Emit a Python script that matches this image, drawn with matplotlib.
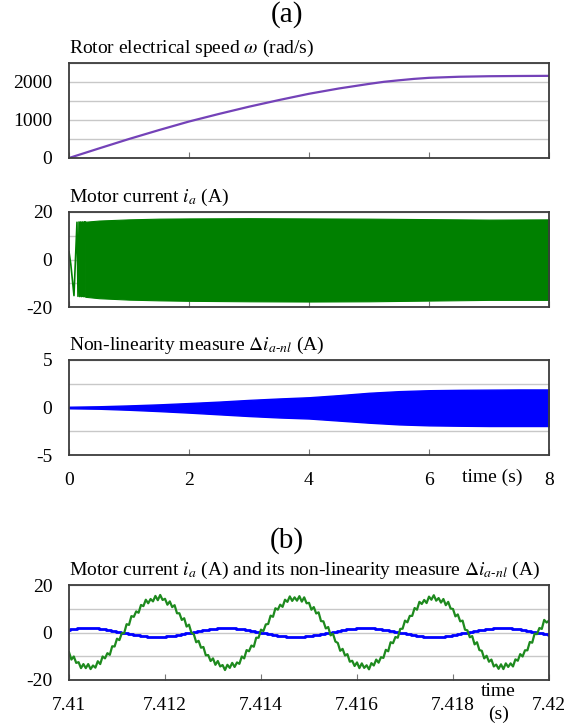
import numpy as np
import matplotlib
matplotlib.use("Agg")
import matplotlib.pyplot as plt

plt.rcParams['font.family'] = ['Liberation Serif', 'DejaVu Serif']
plt.rcParams['mathtext.fontset'] = 'stix'
plt.rcParams['axes.unicode_minus'] = False

# (a) rotor speed
t_speed = [0, 0.5, 1, 1.5, 2, 2.5, 3, 3.5, 4, 4.5, 5, 5.25, 5.5, 5.75, 6, 6.5, 7, 7.5, 8]
speed = [0, 252, 500, 735, 960, 1160, 1350, 1525, 1690, 1830, 1950, 2005, 2045, 2082, 2110, 2138, 2152, 2158, 2162]

# (a) motor current: first visible swings, then envelope of the dense band
t_start = [0, 0.03, 0.083, 0.133, 0.15, 0.167, 0.18, 0.195, 0.21, 0.222, 0.24, 0.25, 0.26, 0.272]
ia_start = [3.3, -2.0, -15.2, 15.7, -15.5, 15.8, -15.6, 15.8, -15.6, 15.8, -15.6, 15.8, -15.6, 15.8]
t_env = [0.27, 0.5, 1, 1.5, 2, 3, 4, 5, 6, 7, 8]
ia_up = [15.9, 16.4, 16.9, 17.2, 17.3, 17.4, 17.3, 17.2, 17.0, 16.8, 16.9]
ia_lo = [-15.7, -16.3, -16.9, -17.2, -17.4, -17.6, -17.7, -17.6, -17.3, -17.0, -17.0]

# (a) non-linearity measure envelope
t_nl = [0, 0.5, 1, 1.5, 2, 2.5, 3, 3.5, 4, 4.5, 5, 5.5, 6, 6.5, 7, 7.5, 8]
nl_up = [0.08, 0.13, 0.22, 0.33, 0.47, 0.62, 0.8, 0.95, 1.08, 1.3, 1.55, 1.72, 1.82, 1.86, 1.88, 1.9, 1.9]
nl_lo = [-0.08, -0.13, -0.24, -0.38, -0.54, -0.72, -0.9, -1.05, -1.16, -1.38, -1.6, -1.78, -1.88, -1.92, -1.95, -1.95, -1.95]

# (b) zoomed window, samples every 0.05 ms
time_b = np.linspace(7.41, 7.42, 201)
ia_b = [-8.3, -11.4, -10.1, -12.8, -12.5, -15.0, -13.3, -15.0, -13.3, -15.4,
        -13.9, -14.8, -12.1, -13.3, -10.1, -10.9, -8.7, -9.4, -5.8, -5.9,
        -2.6, -3.2, -0.3, -0.2, 3.5, 3.2, 6.9, 6.6, 8.9, 8.3,
        11.6, 11.1, 13.8, 12.3, 14.1, 13.1, 15.4, 13.6, 15.8, 13.7,
        14.2, 11.7, 13.1, 10.7, 11.5, 8.1, 8.1, 5.3, 6.0, 2.5,
        3.3, -0.1, -0.7, -4.1, -3.5, -6.4, -6.1, -9.6, -9.5, -12.0,
        -10.9, -13.6, -12.0, -14.3, -13.7, -15.8, -13.6, -14.9, -12.8, -14.5,
        -12.6, -13.2, -10.1, -10.9, -7.4, -7.9, -5.5, -6.0, -2.2, -2.2,
        1.2, 0.6, 3.4, 3.6, 7.1, 6.6, 10.2, 9.6, 11.7, 10.8,
        13.8, 12.9, 15.2, 13.3, 14.8, 13.4, 15.3, 13.0, 14.8, 12.3,
        12.5, 9.6, 10.7, 8.0, 8.5, 4.8, 4.7, 1.7, 2.3, -1.2,
        -0.5, -3.8, -4.4, -7.7, -6.9, -9.7, -9.1, -12.3, -11.9, -14.1,
        -12.6, -15.0, -13.0, -14.9, -13.8, -15.5, -12.9, -13.9, -11.4, -12.7,
        -10.4, -10.7, -7.3, -7.9, -4.1, -4.5, -1.9, -2.2, 1.5, 1.6,
        5.0, 4.3, 7.0, 7.0, 10.3, 9.6, 12.9, 12.0, 13.7, 12.4,
        15.1, 13.8, 15.7, 13.4, 14.5, 12.6, 14.1, 11.5, 12.9, 10.1,
        9.9, 6.8, 7.6, 4.7, 5.0, 1.2, 0.9, -2.0, -1.5, -5.0,
        -4.1, -7.4, -7.7, -10.9, -9.8, -12.3, -11.4, -14.3, -13.5, -15.3,
        -13.4, -15.4, -13.0, -14.5, -13.0, -14.3, -11.3, -11.9, -9.1, -10.1,
        -7.5, -7.5, -4.0, -4.3, -0.5, -0.7, 1.9, 1.5, 5.3, 4.2,
        5.0]
nl_b = [1.2, 1.4, 1.6, 1.6, 1.8, 1.8, 1.8, 1.8, 1.8, 1.8,
        1.8, 1.8, 1.8, 1.6, 1.6, 1.4, 1.2, 1.0, 0.8, 0.6,
        0.4, 0.2, 0.0, -0.2, -0.4, -0.6, -0.8, -1.0, -1.0, -1.2,
        -1.4, -1.6, -1.6, -1.8, -1.8, -1.8, -1.8, -1.8, -1.8, -1.8,
        -1.8, -1.6, -1.6, -1.4, -1.4, -1.2, -1.0, -0.8, -0.6, -0.4,
        -0.2, 0.0, 0.2, 0.4, 0.6, 0.8, 1.0, 1.2, 1.2, 1.4,
        1.6, 1.6, 1.8, 1.8, 1.8, 1.8, 1.8, 1.8, 1.8, 1.8,
        1.6, 1.6, 1.4, 1.4, 1.2, 1.0, 0.8, 0.6, 0.4, 0.2,
        0.0, -0.2, -0.4, -0.6, -0.8, -1.0, -1.2, -1.4, -1.4, -1.6,
        -1.6, -1.8, -1.8, -1.8, -1.8, -1.8, -1.8, -1.8, -1.8, -1.6,
        -1.6, -1.4, -1.2, -1.2, -1.0, -0.8, -0.6, -0.4, -0.2, 0.0,
        0.2, 0.4, 0.6, 0.8, 1.0, 1.2, 1.4, 1.4, 1.6, 1.6,
        1.8, 1.8, 1.8, 1.8, 1.8, 1.8, 1.8, 1.8, 1.6, 1.6,
        1.4, 1.2, 1.0, 1.0, 0.8, 0.6, 0.4, 0.2, 0.0, -0.2,
        -0.4, -0.6, -0.8, -1.0, -1.2, -1.4, -1.6, -1.6, -1.8, -1.8,
        -1.8, -1.8, -1.8, -1.8, -1.8, -1.8, -1.8, -1.6, -1.6, -1.4,
        -1.2, -1.0, -0.8, -0.6, -0.4, -0.2, 0.0, 0.2, 0.4, 0.6,
        0.8, 1.0, 1.0, 1.2, 1.4, 1.6, 1.6, 1.8, 1.8, 1.8,
        1.8, 1.8, 1.8, 1.8, 1.8, 1.6, 1.6, 1.4, 1.4, 1.2,
        1.0, 0.8, 0.6, 0.4, 0.2, 0.0, -0.2, -0.4, -0.6, -0.8,
        -1.0]

W, H = 575, 726
fig = plt.figure(figsize=(W / 100, H / 100), dpi=100)

FS = 14
GRID = '#c8c8c8'
FRAME = '#3c3c3c'


def box(top_px, bottom_px):
    return [69 / W, (H - bottom_px) / H, 480 / W, (bottom_px - top_px) / H]


def style(ax, major, minor, show_x=False):
    ax.set_yticks(major)
    ax.set_yticks(minor, minor=True)
    ax.grid(True, which='both', axis='y', color=GRID, lw=1.0)
    ax.set_axisbelow(True)
    ax.tick_params(axis='y', which='both', length=0, pad=12, labelsize=FS)
    ax.tick_params(axis='x', direction='in', length=4, width=0.8, color='#777777',
                   labelbottom=show_x, pad=12, labelsize=FS)
    for s in ax.spines.values():
        s.set_color(FRAME)
        s.set_linewidth(1.3)


fig.text(287 / W, 1 - 15 / H, '(a)', ha='center', va='center', fontsize=21)
fig.text(287 / W, 1 - 541 / H, '(b)', ha='center', va='center', fontsize=21)

# speed
ax1 = fig.add_axes(box(63, 158))
ax1.plot(t_speed, speed, color='#7442b8', lw=1.6)
ax1.set_xlim(0, 8)
ax1.set_ylim(0, 2500)
ax1.set_xticks([0, 2, 4, 6, 8])
style(ax1, [0, 1000, 2000], [500, 1500, 2500])
ax1.set_title(r'Rotor electrical speed $\omega$ (rad/s)', loc='left', fontsize=FS, pad=7)

# motor current
ax2 = fig.add_axes(box(212, 307))
ax2.plot(t_start, ia_start, color='#008000', lw=1.2)
ax2.fill_between(t_env, ia_lo, ia_up, color='#008000', lw=0.8)
ax2.set_xlim(0, 8)
ax2.set_ylim(-20, 20)
ax2.set_xticks([0, 2, 4, 6, 8])
style(ax2, [-20, 0, 20], [-10, 10])
ax2.set_title(r'Motor current $i_a$ (A)', loc='left', fontsize=FS, pad=7)

# non-linearity measure
ax3 = fig.add_axes(box(360, 455))
ax3.fill_between(t_nl, nl_lo, nl_up, color='#0000ff', lw=1.0)
ax3.set_xlim(0, 8)
ax3.set_ylim(-5, 5)
ax3.set_xticks([0, 2, 4, 6, 8])
style(ax3, [-5, 0, 5], [-2.5, 2.5], show_x=True)
ax3.set_title(r'Non-linearity measure $\Delta i_{a\text{-}nl}$ (A)', loc='left', fontsize=FS, pad=7)
ax3.text(7.05, -0.145, 'time (s)', transform=ax3.get_xaxis_transform(),
         ha='center', va='top', fontsize=FS)

# (b) zoom
ax4 = fig.add_axes(box(585, 680))
ax4.plot(time_b, nl_b, color='#0000ff', lw=2.0, drawstyle='steps-mid')
ax4.plot(time_b, ia_b, color='#1e8a1e', lw=1.6)
ax4.set_xlim(7.41, 7.42)
ax4.set_ylim(-20, 20)
ax4.set_xticks([7.41, 7.412, 7.414, 7.416, 7.418, 7.42])
ax4.set_xticklabels(['7.41', '7.412', '7.414', '7.416', '7.418', '7.42'])
style(ax4, [-20, 0, 20], [-10, 10], show_x=True)
ax4.set_title(r'Motor current $i_a$ (A) and its non-linearity measure $\Delta i_{a\text{-}nl}$ (A)',
              loc='left', fontsize=FS, pad=7)
ax4.text(7.41894, -0.03, 'time\n(s)', transform=ax4.get_xaxis_transform(),
         ha='center', va='top', fontsize=FS, linespacing=1.45)

fig.savefig('out.png', dpi=100)
